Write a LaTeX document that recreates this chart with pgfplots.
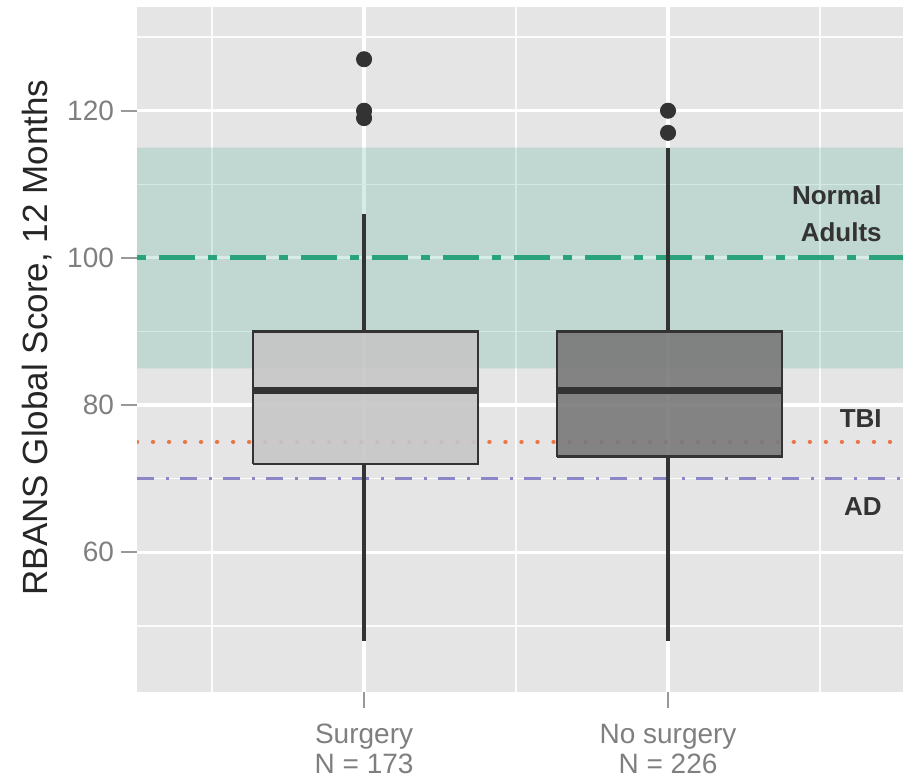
\documentclass[border=0pt]{standalone}
\usepackage{pgfplots}
\pgfplotsset{compat=1.18}
\usepackage{fontspec}
\setmainfont{Liberation Sans}
\definecolor{panel}{HTML}{E5E5E5}
\definecolor{bandgreen}{HTML}{1B9E77}
\definecolor{linegreen}{HTML}{2AA37B}
\definecolor{orng}{HTML}{E8764A}
\definecolor{purp}{HTML}{8A86C8}
\definecolor{boxlight}{HTML}{C6C6C6}
\definecolor{boxdark}{HTML}{797979}
\definecolor{edge}{HTML}{333333}
\definecolor{ticktext}{HTML}{7F7F7F}
\begin{document}
\begin{tikzpicture}
\begin{axis}[
  scale only axis, width=383pt, height=342.5pt,
  xmin=0.253, xmax=2.773, ymin=41.0, ymax=134.1,
  axis background/.style={fill=panel},
  axis line style={draw=none},
  /pgf/number format/assume math mode=true,
  xtick={1,2},
  xticklabels={{Surgery\\N = 173},{No surgery\\N = 226}},
  ytick={60,80,100,120},
  minor xtick={0.5,1.5,2.5},
  minor ytick={50,70,90,110,130},
  grid=both,
  major grid style={draw=white, line width=1.6pt},
  minor grid style={draw=white!85!panel, line width=0.8pt},
  tick align=outside, xtick pos=left, ytick pos=left,
  major tick length=8pt,
  minor tick style={draw=none},
  tick style={draw=ticktext!80, line width=1.1pt},
  xticklabel style={align=center, font=\fontsize{14}{15}\selectfont, text=ticktext, yshift=-4.5pt},
  yticklabel style={font=\fontsize{14}{15}\selectfont, text=ticktext},
  ylabel={RBANS Global Score, 12 Months},
  every axis y label/.style={at={(axis description cs:-0.1305,0.5175)}, rotate=90, anchor=center,
    font=\fontsize{17.5}{20}\selectfont, text=black!85},
]
% reference band (normal adults)
\addplot[draw=none, fill=bandgreen, fill opacity=0.18, forget plot]
  coordinates {(0,85) (3,85) (3,115) (0,115) (0,85)};
% reference lines
\addplot[linegreen, line width=2.4pt, dash pattern=on 4.5pt off 6.5pt on 18pt off 6.5pt, forget plot]
  coordinates {(0.253,100) (2.773,100)};
\addplot[orng, line width=2.2pt, line cap=round, dash pattern=on 0.01pt off 8pt, forget plot]
  coordinates {(0.253,75) (2.773,75)};
\addplot[purp, line width=1.8pt, dash pattern=on 8.5pt off 6pt on 1.5pt off 5.5pt, forget plot]
  coordinates {(0.253,70) (2.773,70)};
% Surgery: whiskers, box, median, outliers
\addplot[edge, line width=1.8pt, forget plot] coordinates {(1,48) (1,72)};
\addplot[edge, line width=1.8pt, forget plot] coordinates {(1,90) (1,106)};
\addplot[draw=edge, line width=1.3pt, fill=boxlight, fill opacity=0.9, forget plot]
  coordinates {(0.635,72) (1.375,72) (1.375,90) (0.635,90) (0.635,72)};
\addplot[edge, line width=3.5pt, forget plot] coordinates {(0.635,82) (1.375,82)};
\addplot[only marks, mark=*, mark size=3.8pt, mark options={fill=edge, draw=edge}, forget plot]
  coordinates {(1,127) (1,120) (1,119)};
% No surgery
\addplot[edge, line width=1.8pt, forget plot] coordinates {(2,48) (2,73)};
\addplot[edge, line width=1.8pt, forget plot] coordinates {(2,90) (2,115)};
\addplot[draw=edge, line width=1.3pt, fill=boxdark, fill opacity=0.9, forget plot]
  coordinates {(1.635,73) (2.375,73) (2.375,90) (1.635,90) (1.635,73)};
\addplot[edge, line width=3.5pt, forget plot] coordinates {(1.635,82) (2.375,82)};
\addplot[only marks, mark=*, mark size=3.8pt, mark options={fill=edge, draw=edge}, forget plot]
  coordinates {(2,120) (2,117)};
% annotations
\node[anchor=base east, inner sep=0pt, font=\bfseries\fontsize{13}{14}\selectfont, text=edge] at (axis cs:2.704,107.2) {Normal};
\node[anchor=base east, inner sep=0pt, font=\bfseries\fontsize{13}{14}\selectfont, text=edge] at (axis cs:2.704,102.2) {Adults};
\node[anchor=base east, inner sep=0pt, font=\bfseries\fontsize{13}{14}\selectfont, text=edge] at (axis cs:2.704,77.0) {TBI};
\node[anchor=base east, inner sep=0pt, font=\bfseries\fontsize{13}{14}\selectfont, text=edge] at (axis cs:2.704,65.0) {AD};
\end{axis}
\pgfresetboundingbox
\path ([xshift=-68.5pt,yshift=-43.5pt]current axis.south west) rectangle ([yshift=3.5pt]current axis.north east);
\end{tikzpicture}
\end{document}
